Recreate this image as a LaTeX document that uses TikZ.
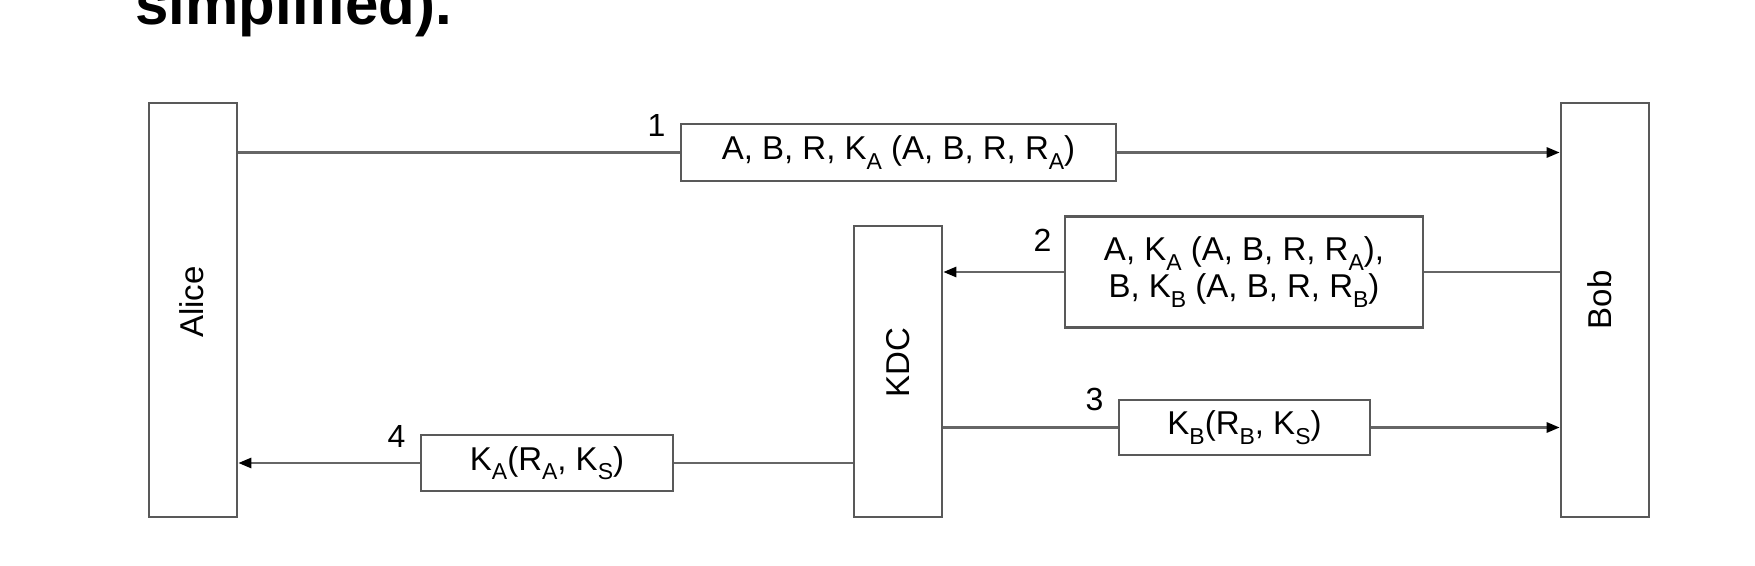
\documentclass[tikz,border=0pt]{standalone}
\usepackage{fontspec}
\setmainfont{Liberation Sans}
\usetikzlibrary{arrows.meta}
\newcommand\lsub[1]{\raisebox{-0.55ex}{\fontsize{11.5}{12}\selectfont #1}}
\begin{document}
\begin{tikzpicture}[x=0.5pt,y=-0.5pt,
  box/.style={draw=black!65, line width=1.3pt, fill=white, inner sep=0pt},
  actor/.style={box, minimum width=44pt},
  actortext/.style={rotate=90, inner sep=0pt, font=\fontsize{16.5}{18}\selectfont},
  msg/.style={box, align=center, font=\fontsize{16.5}{18.5}\selectfont},
  num/.style={inner sep=0pt, anchor=south east, font=\fontsize{16}{18}\selectfont},
  wire/.style={draw=black!60, line width=1.3pt},
  arr/.style={wire, -{Triangle[length=6.5pt,width=5pt,color=black,fill=black]}},
  title/.style={inner sep=0pt, anchor=base west, font=\fontsize{30}{34}\selectfont\bfseries}
]
\useasboundingbox (0,0) rectangle (1755,566);
\clip (0,0) rectangle (1755,566);
\fill[white] (0,0) rectangle (1755,566);

\node[title] (ttl) at (135,25) {simplified).};

\node[actor, minimum height=207pt] (alice) at (193,310) {};
\node[actortext] (alicet) at (192,302) {Alice};
\node[actor, minimum height=207pt] (bob) at (1605,310) {};
\node[actortext] (bobt) at (1600,300) {Bob};
\node[actor, minimum height=145.5pt] (kdc) at (898,371.5) {};
\node[actortext] (kdct) at (898,363) {KDC};

\node[msg, minimum width=217.5pt, minimum height=28.5pt] (m1) at (898.5,152.5)
  {A, B, R, K\lsub{A} (A, B, R, R\lsub{A})};
\node[msg, minimum width=179pt, minimum height=55.5pt] (m2) at (1244,272)
  {A, K\lsub{A} (A, B, R, R\lsub{A}),\\B, K\lsub{B} (A, B, R, R\lsub{B})};
\node[msg, minimum width=125.5pt, minimum height=27.5pt] (m3) at (1244.5,427.5)
  {K\lsub{B}(R\lsub{B}, K\lsub{S})};
\node[msg, minimum width=126pt, minimum height=28pt] (m4) at (547,463)
  {K\lsub{A}(R\lsub{A}, K\lsub{S})};

\node[num] (n1) at ([xshift=-7pt,yshift=8pt]m1.west) {1};
\node[num] (n2) at ([xshift=-6pt,yshift=10pt]m2.west) {2};
\node[num] (n3) at ([xshift=-7pt,yshift=8pt]m3.west) {3};
\node[num] (n4) at ([xshift=-7pt,yshift=7.5pt]m4.west) {4};

\draw[wire] (m1.west -| alice.east) -- (m1.west);
\draw[arr] (m1.east) -- (m1.east -| bob.west);
\draw[wire] (m2.east -| bob.west) -- (m2.east);
\draw[arr] (m2.west) -- (m2.west -| kdc.east);
\draw[wire] (m3.west -| kdc.east) -- (m3.west);
\draw[arr] (m3.east) -- (m3.east -| bob.west);
\draw[wire] (m4.east -| kdc.west) -- (m4.east);
\draw[arr] (m4.west) -- (m4.west -| alice.east);
\end{tikzpicture}
\end{document}
